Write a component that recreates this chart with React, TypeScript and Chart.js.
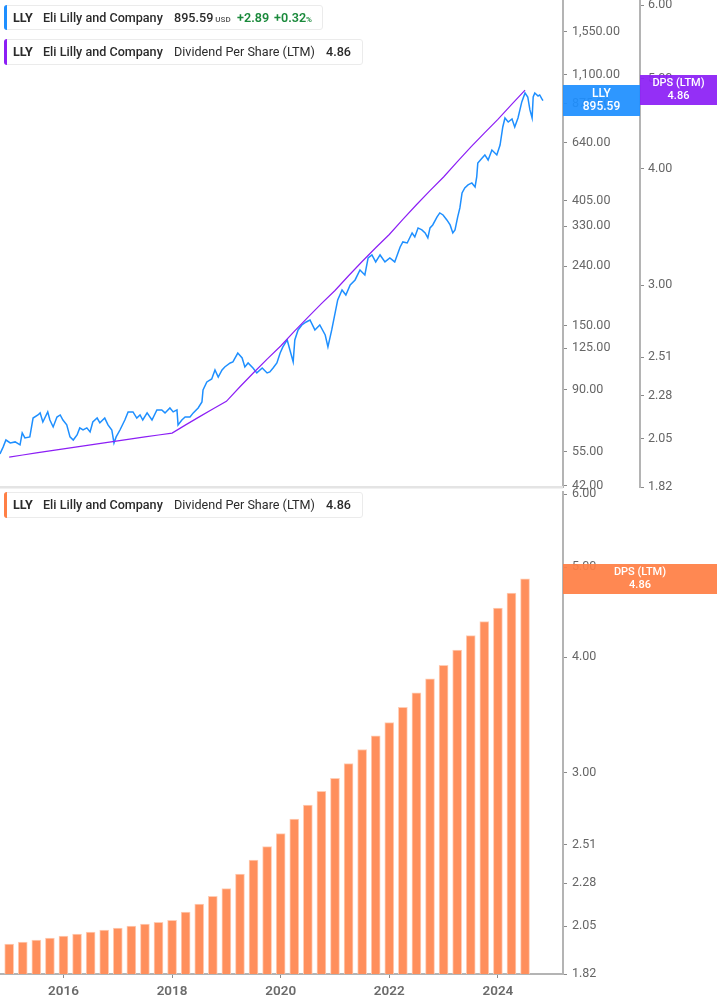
import React, { useEffect, useRef } from "react";
import { Chart, registerables } from "chart.js";
Chart.register(...registerables);

// ---------- data ----------
const priceDates = [
  2014.83, 2014.89, 2014.94, 2015.02, 2015.11, 2015.2, 2015.24, 2015.29, 2015.38, 2015.44,
  2015.53, 2015.57, 2015.62, 2015.71, 2015.75, 2015.81, 2015.88, 2015.94, 2015.99, 2016.06,
  2016.12, 2016.18, 2016.25, 2016.3, 2016.36, 2016.43, 2016.49, 2016.54, 2016.62, 2016.67,
  2016.76, 2016.82, 2016.89, 2016.93, 2016.97, 2017.04, 2017.13, 2017.19, 2017.28, 2017.35,
  2017.41, 2017.46, 2017.54, 2017.63, 2017.72, 2017.81, 2017.87, 2017.96, 2018.02, 2018.09,
  2018.11, 2018.18, 2018.24, 2018.33, 2018.39, 2018.48, 2018.55, 2018.57, 2018.64, 2018.73,
  2018.79, 2018.85, 2018.92, 2018.97, 2019.07, 2019.12, 2019.21, 2019.29, 2019.34, 2019.4,
  2019.49, 2019.56, 2019.66, 2019.75, 2019.8, 2019.86, 2019.93, 2019.99, 2020.04, 2020.12,
  2020.17, 2020.23, 2020.26, 2020.32, 2020.39, 2020.47, 2020.54, 2020.63, 2020.72, 2020.82,
  2020.87, 2020.94, 2021.05, 2021.13, 2021.2, 2021.28, 2021.37, 2021.46, 2021.55, 2021.61,
  2021.68, 2021.75, 2021.83, 2021.92, 2022.01, 2022.1, 2022.2, 2022.25, 2022.33, 2022.42,
  2022.47, 2022.53, 2022.6, 2022.66, 2022.71, 2022.75, 2022.8, 2022.88, 2022.93, 2022.99,
  2023.06, 2023.12, 2023.17, 2023.21, 2023.26, 2023.3, 2023.34, 2023.39, 2023.45, 2023.52,
  2023.58, 2023.61, 2023.63, 2023.71, 2023.76, 2023.82, 2023.89, 2023.98, 2024.04, 2024.09,
  2024.13, 2024.19, 2024.26, 2024.31, 2024.37, 2024.44, 2024.5, 2024.55, 2024.59, 2024.63,
  2024.65, 2024.68, 2024.74, 2024.77, 2024.81, 2024.83,
];
const priceValues = [
  54.0, 57.1, 60.3, 58.9, 59.4, 58.0, 63.8, 61.3, 61.8, 71.8,
  73.6, 74.8, 69.6, 75.4, 70.7, 66.9, 72.4, 73.6, 70.7, 68.0,
  61.8, 60.3, 62.8, 66.4, 65.3, 66.4, 64.3, 69.6, 71.8, 69.1,
  71.8, 68.0, 65.3, 58.9, 61.8, 65.3, 70.7, 75.4, 75.4, 71.8,
  73.6, 70.7, 74.8, 70.7, 76.6, 76.6, 74.8, 77.8, 75.4, 76.6,
  68.0, 70.7, 72.4, 72.4, 74.8, 77.8, 81.6, 89.8, 95.7, 98.0,
  105.2, 99.5, 105.2, 107.8, 111.3, 112.2, 120.4, 115.8, 107.8, 111.3,
  106.9, 102.8, 106.9, 102.8, 103.6, 106.9, 111.3, 120.4, 126.4, 133.6,
  123.4, 112.2, 133.6, 144.7, 150.5, 154.1, 156.6, 144.7, 150.5, 139.0,
  126.4, 144.7, 183.6, 198.8, 191.0, 206.9, 215.3, 233.1, 224.0, 256.4,
  262.6, 248.5, 262.6, 248.5, 256.4, 248.5, 279.9, 291.2, 288.9, 312.8,
  303.0, 325.5, 320.4, 312.8, 300.6, 325.5, 333.4, 355.3, 366.8, 361.0,
  346.9, 333.4, 312.8, 320.4, 355.3, 381.6, 430.0, 447.4, 458.2, 465.6,
  451.0, 488.3, 545.8, 567.9, 581.6, 558.8, 605.0, 581.6, 629.6, 726.6,
  780.4, 755.9, 774.2, 726.6, 780.4, 886.5, 952.1, 922.2, 831.8, 780.4,
  922.2, 952.1, 929.6, 937.1, 907.8, 895.59,
];
const dpsDates = [
  "2015-01", "2015-04", "2015-07", "2015-10", "2016-01", "2016-04", "2016-07", "2016-10",
  "2017-01", "2017-04", "2017-07", "2017-10", "2018-01", "2018-04", "2018-07", "2018-10",
  "2019-01", "2019-04", "2019-07", "2019-10", "2020-01", "2020-04", "2020-07", "2020-10",
  "2021-01", "2021-04", "2021-07", "2021-10", "2022-01", "2022-04", "2022-07", "2022-10",
  "2023-01", "2023-04", "2023-07", "2023-10", "2024-01", "2024-04", "2024-07",
];
const dpsValues = [
  1.96, 1.97, 1.98, 1.99, 2.0, 2.01, 2.02, 2.03,
  2.04, 2.05, 2.06, 2.07, 2.08, 2.1225, 2.165, 2.2075,
  2.25, 2.3325, 2.415, 2.4975, 2.58, 2.675, 2.77, 2.865,
  2.96, 3.07, 3.18, 3.29, 3.4, 3.53, 3.66, 3.79,
  3.92, 4.07, 4.22, 4.37, 4.52, 4.69, 4.86,
];
const priceTicks = [42, 55, 90, 125, 150, 240, 330, 405, 640, 875, 1100, 1550];
const dpsTicks = [1.82, 2.05, 2.28, 2.51, 3.0, 4.0, 5.0, 6.0];
const yearTicks = [2016, 2018, 2020, 2022, 2024];
const lastPrice = 895.59;
const priceChange = 2.89;
const priceChangePct = 0.32;
const lastDps = 4.86;

// ---------- helpers ----------
const toYear = (s: string) => {
  const [y, m] = s.split("-").map(Number);
  return y + (m - 1) / 12;
};
const X_MIN = 2014.831;
const X_MAX = 2025.199;
const TICK_FONT = { family: "Roboto", size: 12.5 };
const AXIS_GREY = "#b4b4b4";
const BLUE = "#1e8fff";
const PURPLE = "#8c1ff5";
const ORANGE = "#ff7f45";

const fmtPrice = (v: number) =>
  Number(v).toLocaleString("en-US", { minimumFractionDigits: 2, maximumFractionDigits: 2 });

function tagPlugin(tags: any[]) {
  return {
    id: "tags",
    afterDraw(chart: any) {
      const ctx = chart.ctx;
      for (const t of tags) {
        const s = chart.scales[t.scale];
        const y = s.getPixelForValue(t.value);
        const x0 = s.left;
        const x1 = t.full ? chart.width : s.right;
        ctx.save();
        ctx.globalAlpha = 0.93;
        ctx.fillStyle = t.color;
        ctx.fillRect(x0, Math.round(y - t.h / 2), x1 - x0, t.h);
        ctx.globalAlpha = 1;
        ctx.fillStyle = "#fff";
        ctx.font = t.font;
        ctx.textAlign = "center";
        ctx.textBaseline = "middle";
        const cx = (x0 + x1) / 2;
        ctx.fillText(t.lines[0], cx, y - 6.5);
        ctx.fillText(t.lines[1], cx, y + 6.5);
        ctx.restore();
      }
    },
  };
}

const separatorPlugin = {
  id: "sep",
  afterDraw(chart: any) {
    const ctx = chart.ctx;
    ctx.save();
    ctx.fillStyle = "#e4e4e4";
    ctx.fillRect(0, chart.chartArea.bottom - 1, chart.chartArea.right, 2.5);
    ctx.restore();
  },
};

function rightLogAxis(min: number, max: number, ticks: number[], fmt: (v: number) => string, width: number, weight: number, pad: number) {
  return {
    type: "logarithmic",
    position: "right",
    min,
    max,
    bounds: "data",
    weight,
    afterBuildTicks: (scale: any) => {
      scale.ticks = ticks.map((v) => ({ value: v }));
    },
    afterFit: (scale: any) => {
      scale.width = width;
      scale.paddingTop = 0;
      scale.paddingBottom = 0;
    },
    border: { display: true, color: AXIS_GREY, width: 2 },
    grid: { display: true, drawOnChartArea: false, drawTicks: true, tickLength: 4, tickColor: "#8a8a8a", tickWidth: 1 },
    ticks: {
      autoSkip: false,
      padding: pad,
      color: "#666",
      font: TICK_FONT,
      callback: (v: any) => fmt(Number(v)),
    },
  };
}

function TopChart() {
  const ref = useRef<HTMLCanvasElement | null>(null);
  useEffect(() => {
    if (!ref.current) return;
    const chart = new Chart(ref.current, {
      type: "line",
      data: {
        datasets: [
          {
            data: dpsDates.map((d, i) => ({ x: toYear(d), y: dpsValues[i] })),
            yAxisID: "dps",
            borderColor: PURPLE,
            borderWidth: 1.2,
            pointRadius: 0,
            tension: 0,
          },
          {
            data: priceDates.map((d, i) => ({ x: d, y: priceValues[i] })),
            yAxisID: "price",
            borderColor: BLUE,
            borderWidth: 1.5,
            pointRadius: 0,
            tension: 0,
          },
        ],
      },
      options: {
        animation: false,
        responsive: false,
        events: [],
        layout: { padding: { top: 0, bottom: 13, left: 0, right: 0 } },
        plugins: { legend: { display: false }, tooltip: { enabled: false } },
        scales: {
          x: { type: "linear", min: X_MIN, max: X_MAX, bounds: "data", display: false },
          price: rightLogAxis(41.5, 1994, priceTicks, fmtPrice, 77, 0, 5) as any,
          dps: rightLogAxis(1.82, 6.075, dpsTicks, (v) => v.toFixed(2), 77, 1, 4) as any,
        },
      } as any,
      plugins: [
        separatorPlugin,
        tagPlugin([
          { scale: "price", value: lastPrice, color: BLUE, h: 31, font: "500 12px Roboto", lines: ["LLY", lastPrice.toFixed(2)] },
          { scale: "dps", value: lastDps, color: PURPLE, h: 30, font: "500 11px Roboto", lines: ["DPS (LTM)", lastDps.toFixed(2)] },
        ]),
      ],
    });
    return () => chart.destroy();
  }, []);
  return <canvas ref={ref} width={717} height={500} style={{ position: "absolute", left: 0, top: 0 }} />;
}

function BottomChart() {
  const ref = useRef<HTMLCanvasElement | null>(null);
  useEffect(() => {
    if (!ref.current) return;
    const chart = new Chart(ref.current, {
      type: "bar",
      data: {
        datasets: [
          {
            data: dpsDates.map((d, i) => ({ x: toYear(d), y: dpsValues[i] })),
            backgroundColor: "#ff8f5c",
            borderColor: "#ffcdb5",
            borderWidth: { left: 1, right: 1, top: 1, bottom: 0 },
            barThickness: 9,
          },
        ],
      },
      options: {
        animation: false,
        responsive: false,
        events: [],
        layout: { padding: { top: 10, bottom: 0, left: 0, right: 0 } },
        plugins: { legend: { display: false }, tooltip: { enabled: false } },
        scales: {
          x: {
            type: "linear",
            min: X_MIN,
            max: X_MAX,
            bounds: "data",
            offset: false,
            afterBuildTicks: (scale: any) => {
              scale.ticks = yearTicks.map((v) => ({ value: v }));
            },
            afterFit: (scale: any) => {
              scale.height = 31;
              scale.paddingLeft = 0;
              scale.paddingRight = 0;
            },
            border: { display: true, color: AXIS_GREY, width: 2 },
            grid: { display: true, offset: false, drawOnChartArea: false, drawTicks: true, tickLength: 4, tickColor: "#8a8a8a" },
            ticks: {
              autoSkip: false,
              maxRotation: 0,
              padding: 6,
              color: "#6b6b6b",
              font: { family: "Roboto", size: 13.5, weight: "600" },
              callback: (v: any) => String(v),
            },
          },
          y: rightLogAxis(1.82, 6.03, dpsTicks, (v) => v.toFixed(2), 154, 0, 5) as any,
        },
      } as any,
      plugins: [
        tagPlugin([
          { scale: "y", value: lastDps, color: ORANGE, h: 30, full: true, font: "500 11px Roboto", lines: ["DPS (LTM)", lastDps.toFixed(2)] },
        ]),
      ],
    });
    return () => chart.destroy();
  }, []);
  return <canvas ref={ref} width={717} height={523} style={{ position: "absolute", left: 0, top: 482 }} />;
}

function LegendBox({ top, width, height, color, children }: any) {
  return (
    <div
      style={{
        position: "absolute",
        left: 4,
        top,
        width,
        height,
        background: "#fff",
        border: "1px solid #ebebeb",
        borderRadius: 3,
        boxSizing: "border-box",
        fontFamily: "Roboto",
        fontSize: 12.6,
        fontWeight: 500,
        color: "#2b2b2b",
        lineHeight: `${height - 2}px`,
        whiteSpace: "nowrap",
      }}
    >
      <div style={{ position: "absolute", left: -1, top: -1, bottom: -1, width: 3, background: color, borderRadius: "3px 0 0 3px" }} />
      {children}
    </div>
  );
}

const at = (left: number, extra: any = {}) => ({ position: "absolute" as const, left, top: 0, ...extra });

export default function App() {
  return (
    <div style={{ position: "absolute", left: 0, top: 0, width: 717, height: 1005, background: "#fff", overflow: "hidden" }}>
      <TopChart />
      <BottomChart />
      <LegendBox top={5} width={319} height={25} color={BLUE}>
        <span style={at(8, { fontWeight: 700 })}>LLY</span>
        <span style={at(38)}>Eli Lilly and Company</span>
        <span style={at(169)}>
          {lastPrice.toFixed(2)}
          <span style={{ fontSize: 8, marginLeft: 2, color: "#555" }}>USD</span>
        </span>
        <span style={at(232, { color: "#1b8a3c", fontWeight: 600 })}>+{priceChange.toFixed(2)}</span>
        <span style={at(269, { color: "#1b8a3c", fontWeight: 600 })}>
          +{priceChangePct.toFixed(2)}
          <span style={{ fontSize: 8 }}>%</span>
        </span>
      </LegendBox>
      <LegendBox top={39} width={359} height={26} color={PURPLE}>
        <span style={at(8, { fontWeight: 700 })}>LLY</span>
        <span style={at(38)}>Eli Lilly and Company</span>
        <span style={at(169, { fontWeight: 400 })}>Dividend Per Share (LTM)</span>
        <span style={at(321)}>{lastDps.toFixed(2)}</span>
      </LegendBox>
      <LegendBox top={492} width={359} height={26} color={ORANGE}>
        <span style={at(8, { fontWeight: 700 })}>LLY</span>
        <span style={at(38)}>Eli Lilly and Company</span>
        <span style={at(169, { fontWeight: 400 })}>Dividend Per Share (LTM)</span>
        <span style={at(321)}>{lastDps.toFixed(2)}</span>
      </LegendBox>
    </div>
  );
}
